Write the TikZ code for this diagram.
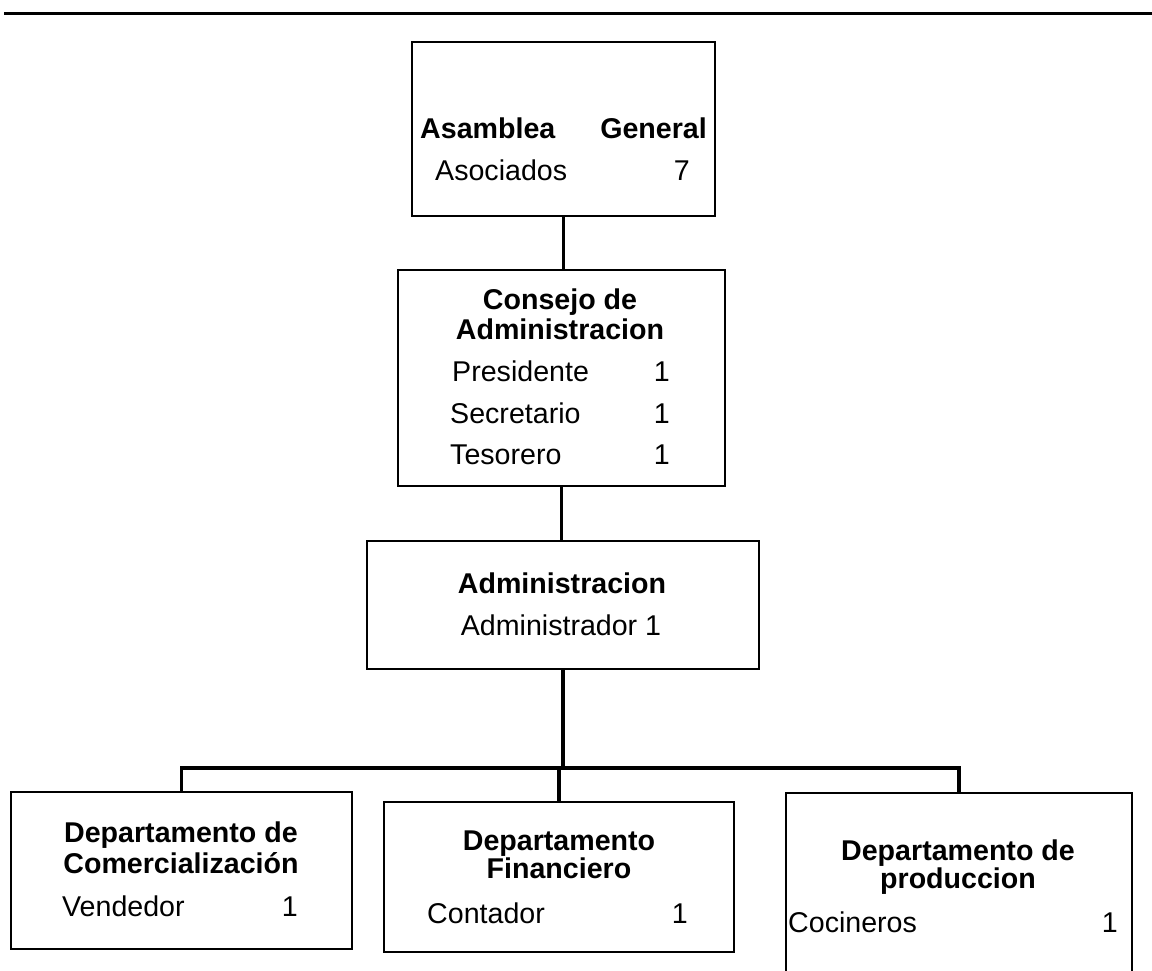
\documentclass[tikz,border=0pt]{standalone}
\usepackage{fontspec}
\setmainfont{Liberation Sans}
\usepackage{tikz}
\usetikzlibrary{positioning}
\tikzset{caja/.style={draw, line width=2pt, inner sep=0pt},
    conector/.style={line width=3.5pt},
    titulo/.style={font=\fontsize{28.6}{34}\selectfont\bfseries, inner sep=0pt, anchor=base},
    texto/.style={font=\fontsize{28.6}{34}\selectfont, inner sep=0pt}}

\begin{document}
\begin{tikzpicture}[x=1pt, y=-1pt]
        \useasboundingbox (0,0) rectangle (1152,970);
        \draw[line width=3pt] (4,13.5) -- (1152,13.5);
        % cajas
        \node[caja, minimum width=303pt, minimum height=174pt] (asamblea) at (563.5,129) {};
        \node[caja, minimum width=327pt, minimum height=216pt] (consejo) at (561.5,378) {};
        \node[caja, minimum width=392pt, minimum height=128pt] (admin) at (563,605) {};
        \node[caja, minimum width=341pt, minimum height=157pt] (comercial) at (181.5,870.5) {};
        \node[caja, minimum width=350pt, minimum height=150pt] (financiero) at (559,877) {};
        \node[caja, minimum width=346pt, minimum height=215pt] (produccion) at (959,900.5) {};
        % textos
        \node[titulo, anchor=base west] (asamblea-a) at (420,138) {Asamblea};
        \node[titulo, anchor=base east] (asamblea-g) at (707,138) {General};
        \node[texto, anchor=base west] (asociados) at (435,180) {Asociados};
        \node[texto, anchor=base east] (asociados-n) at (690,180) {7};
        \node[titulo] (consejo-1) at (560,309) {Consejo de};
        \node[titulo] (consejo-2) at (560,339) {Administracion};
        \node[texto, anchor=base west] (presidente) at (452,381) {Presidente};
        \node[texto, anchor=base east] (presidente-n) at (670,381) {1};
        \node[texto, anchor=base west] (secretario) at (450,423) {Secretario};
        \node[texto, anchor=base east] (secretario-n) at (670,423) {1};
        \node[texto, anchor=base west] (tesorero) at (450,464) {Tesorero};
        \node[texto, anchor=base east] (tesorero-n) at (670,464) {1};
        \node[titulo] (admin-1) at (562,593) {Administracion};
        \node[texto, anchor=base] (administrador) at (561,635) {Administrador 1};
        \node[titulo] (comercial-1) at (181,842) {Departamento de};
        \node[titulo] (comercial-2) at (181,873) {Comercialización};
        \node[texto, anchor=base west] (vendedor) at (62,916) {Vendedor};
        \node[texto, anchor=base east] (vendedor-n) at (298,916) {1};
        \node[titulo] (financiero-1) at (559,850) {Departamento};
        \node[titulo] (financiero-2) at (559,878) {Financiero};
        \node[texto, anchor=base west] (contador) at (427,923) {Contador};
        \node[texto, anchor=base east] (contador-n) at (688,923) {1};
        \node[titulo] (produccion-1) at (958,860) {Departamento de};
        \node[titulo] (produccion-2) at (958,888) {produccion};
        \node[texto, anchor=base west] (cocineros) at (788,932) {Cocineros};
        \node[texto, anchor=base east] (cocineros-n) at (1118,932) {1};
        % conectores
        \coordinate (barra) at (563,768);
        \draw[conector] (asamblea.south) -- (asamblea.south |- consejo.north);
        \draw[conector] (consejo.south) -- (consejo.south |- admin.north);
        \draw[conector] (admin.south) -- (admin.south |- barra);
        \draw[conector] (comercial.north) |- (barra) -| (produccion.north);
        \draw[conector] (financiero.north) -- (financiero.north |- barra);
    \end{tikzpicture}
\end{document}
